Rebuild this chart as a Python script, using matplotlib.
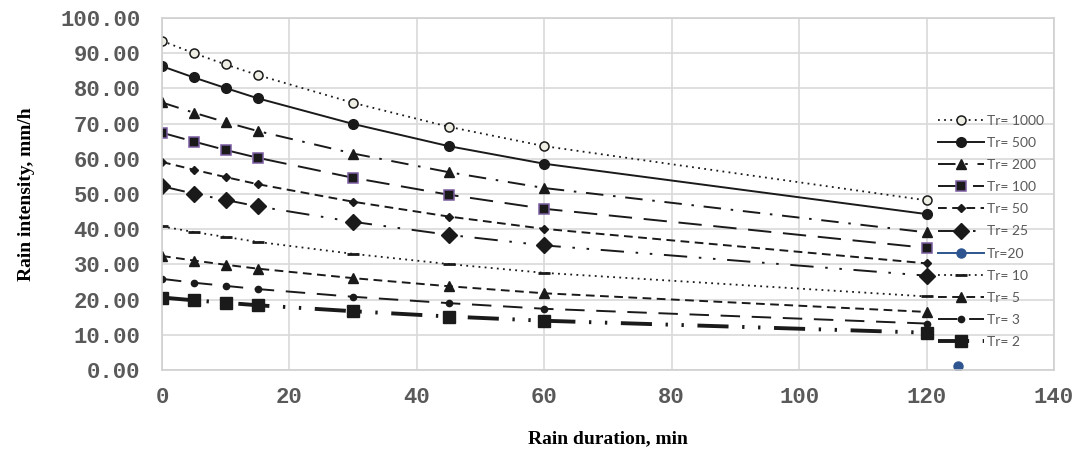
import matplotlib
matplotlib.use("Agg")
import matplotlib.pyplot as plt

# rain duration, min
durations = [0, 5, 10, 15, 30, 45, 60, 120]

tr_1000 = [93.5, 90.0, 86.8, 83.8, 75.9, 69.1, 63.6, 48.2]
tr_500 = [86.3, 83.1, 80.1, 77.2, 69.9, 63.6, 58.6, 44.3]
tr_200 = [76.0, 73.1, 70.4, 67.9, 61.5, 56.2, 51.7, 39.1]
tr_100 = [67.4, 64.9, 62.5, 60.3, 54.6, 49.8, 45.8, 34.7]
tr_50 = [59.1, 56.9, 54.8, 52.8, 47.8, 43.6, 40.1, 30.3]
tr_25 = [52.2, 50.1, 48.3, 46.5, 42.1, 38.4, 35.4, 26.8]
tr_10 = [40.8, 39.2, 37.8, 36.4, 33.0, 30.1, 27.6, 20.9]
tr_5 = [32.4, 31.1, 29.9, 28.8, 26.1, 23.8, 21.8, 16.5]
tr_3 = [25.9, 24.8, 23.9, 23.0, 20.8, 19.0, 17.4, 13.2]
tr_2 = [20.6, 19.8, 19.1, 18.4, 16.7, 15.2, 14.0, 10.6]

# the lone Tr=20 point
tr_20_x = [125]
tr_20_y = [1.0]

ink = "#1a1a1a"
gray = "#595959"

fig = plt.figure(figsize=(10.77, 4.58), dpi=100)
ax = fig.add_axes([0.1504, 0.1921, 0.8282, 0.7686])

ax.plot(durations, tr_1000, color=ink, lw=1.3, ls=(0, (1, 2.4)),
        marker="o", ms=6.5, mfc="#eeeee4", mec=ink, mew=1.1, label="Tr= 1000")
ax.plot(durations, tr_500, color=ink, lw=1.4, ls="-",
        marker="o", ms=7, mfc=ink, mec=ink, label="Tr= 500")
ax.plot(durations, tr_200, color=ink, lw=1.4, ls=(0, (9, 5, 1.3, 5)),
        marker="^", ms=7, mfc=ink, mec=ink, label="Tr= 200")
ax.plot(durations, tr_100, color=ink, lw=1.4, ls=(0, (12, 6)),
        marker="s", ms=6.5, mfc=ink, mec="#7a5ca0", mew=1.1, label="Tr= 100")
ax.plot(durations, tr_50, color=ink, lw=1.4, ls=(0, (4.5, 2.8)),
        marker="D", ms=4.5, mfc=ink, mec=ink, label="Tr= 50")
ax.plot(durations, tr_25, color=ink, lw=1.4, ls=(0, (12, 6, 1.3, 6, 1.3, 6)),
        marker="D", ms=8, mfc=ink, mec=ink, label="Tr= 25")
ax.plot(tr_20_x, tr_20_y, color="#2e5590", lw=1.4, ls="-",
        marker="o", ms=6.5, mfc="#2e5590", mec="#2e5590", label="Tr=20")
ax.plot(durations, tr_10, color=ink, lw=1.3, ls=(0, (1, 2.4)),
        marker="_", ms=9, mew=2, mec=ink, label="Tr= 10")
ax.plot(durations, tr_5, color=ink, lw=1.4, ls=(0, (4.5, 2.8)),
        marker="^", ms=7, mfc=ink, mec=ink, label="Tr= 5")
ax.plot(durations, tr_3, color=ink, lw=1.4, ls=(0, (10, 6)),
        marker="o", ms=4.5, mfc=ink, mec=ink, label="Tr= 3")
ax.plot(durations, tr_2, color=ink, lw=2.8, ls=(0, (8, 3.5, 0.6, 3.5, 0.6, 3.5)),
        marker="s", ms=9, mfc=ink, mec=ink, label="Tr= 2")

ax.set_xlim(0, 140)
ax.set_ylim(0, 100)
ax.set_xticks(range(0, 141, 20))
ax.set_yticks(range(0, 101, 10))
ax.set_yticklabels([f"{v:.2f}" for v in range(0, 101, 10)])

ax.grid(True, color="#d9d9d9", lw=1.2)
ax.set_axisbelow(True)
for side in ax.spines.values():
    side.set_color("#d0d0d0")
    side.set_linewidth(1.2)

ax.tick_params(length=0, labelsize=16, labelcolor=gray)
ax.tick_params(axis="x", pad=12)
ax.tick_params(axis="y", pad=15.5)
for lab in ax.get_xticklabels() + ax.get_yticklabels():
    lab.set_family("Liberation Mono")
    lab.set_fontweight("bold")

ax.set_xlabel("Rain duration, min", family="Liberation Serif", fontweight="bold",
              fontsize=14, labelpad=16)
ax.set_ylabel("Rain intensity, mm/h", family="Liberation Serif", fontweight="bold",
              fontsize=14, labelpad=18)

leg = ax.legend(loc="upper left", bbox_to_anchor=(0.862, 0.745), frameon=False,
                prop={"family": "Lato", "size": 10}, handlelength=3.3,
                labelspacing=0.73, borderpad=0, handletextpad=0.25)
for t in leg.get_texts():
    t.set_color(gray)

fig.savefig("out.png", dpi=100)
plt.close(fig)
